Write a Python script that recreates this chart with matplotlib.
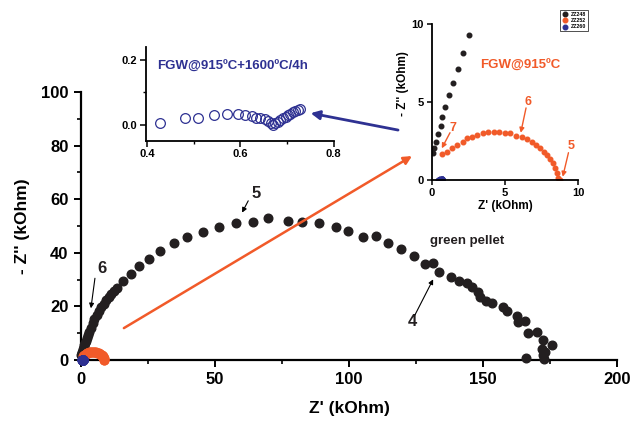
import matplotlib
matplotlib.use("Agg")
import matplotlib.pyplot as plt
from matplotlib.ticker import MultipleLocator

plt.rcParams['font.family'] = ['Liberation Sans', 'DejaVu Sans']
plt.rcParams['font.weight'] = 'bold'

# ---------------- data (kOhm) ----------------
# ZZ248 : green pellet
zz248_x = [0.12, 0.19, 0.31, 0.44, 0.63, 0.74, 0.94, 1.21, 1.49, 1.81, 2.15, 2.58,
           3.0, 3.6, 4.3, 5.0, 5.8, 6.6, 7.5, 8.4, 9.3, 10.3, 11.3, 12.2,
           13.3, 15.5, 18.5, 21.7, 25.4, 29.5, 34.7, 39.7, 45.6, 51.6, 57.8, 64.1, 69.9,
           77.4, 82.6, 88.8, 95.1, 99.5, 105.1, 110.1, 114.4, 119.3, 124.2, 128.2, 131.3,
           133.7, 137.9, 141.1, 144.0, 146.0, 148.2, 148.9, 151.1, 153.2, 157.4, 159.1,
           162.6, 163.2, 165.6, 166.9, 170.1, 172.3, 175.6, 171.9, 173.3, 172.5, 172.8, 166.0]
zz248_y = [1.75, 2.03, 2.46, 2.93, 3.46, 4.02, 4.70, 5.45, 6.24, 7.10, 8.12, 9.29,
           10.5, 12.0, 13.8, 15.3, 16.8, 18.2, 19.6, 21.0, 22.3, 23.6, 24.8, 25.9,
           26.8, 29.6, 32.1, 35.1, 37.8, 40.8, 43.8, 45.8, 47.9, 49.5, 51.2, 51.6, 52.9,
           52.0, 51.4, 51.0, 49.7, 48.2, 46.0, 46.4, 43.5, 41.3, 38.8, 35.7, 36.3,
           32.9, 30.9, 29.6, 28.8, 27.4, 25.5, 23.6, 22.1, 21.2, 19.9, 18.4,
           16.4, 14.3, 14.7, 10.2, 10.6, 7.5, 5.6, 4.0, 3.0, 1.9, 0.5, 0.6]

# ZZ252 : FGW@915ºC
zz252_x = [0.70, 1.04, 1.38, 1.76, 2.13, 2.40, 2.74, 3.12, 3.49, 3.87, 4.26, 4.62, 5.01,
           5.35, 5.76, 6.15, 6.49, 6.83, 7.12, 7.40, 7.67, 7.89, 8.08, 8.26, 8.42, 8.53,
           8.64, 8.76]
zz252_y = [1.67, 1.81, 2.03, 2.24, 2.46, 2.67, 2.78, 2.88, 2.99, 3.06, 3.10, 3.08, 3.03,
           2.99, 2.82, 2.78, 2.61, 2.46, 2.24, 2.03, 1.81, 1.60, 1.33, 1.07, 0.75, 0.43,
           0.15, 0.0]

# ZZ260 : FGW@915ºC+1600ºC/4h
zz260_x = [0.427, 0.481, 0.509, 0.543, 0.571, 0.594, 0.611, 0.624, 0.634, 0.643, 0.652,
           0.659, 0.666, 0.670, 0.675, 0.680, 0.686, 0.691, 0.697, 0.702, 0.707, 0.712,
           0.717, 0.723, 0.729]
zz260_y = [0.005, 0.023, 0.023, 0.030, 0.033, 0.033, 0.030, 0.027, 0.023, 0.020, 0.017,
           0.013, 0.005, 0.0, 0.005, 0.010, 0.015, 0.020, 0.025, 0.030, 0.035, 0.040,
           0.044, 0.047, 0.048]

legend_labels = ['ZZ248', 'ZZ252', 'ZZ260']
c_black = '#231F20'
c_orange = '#F15A29'
c_blue = '#2E3192'

W, H = 633, 422
fig = plt.figure(figsize=(W / 100, H / 100), dpi=100)

def rect(x0, y0, x1, y1):
    # pixel box (top-left origin) -> figure fraction rect
    return [x0 / W, 1 - y1 / H, (x1 - x0) / W, (y1 - y0) / H]

def style(ax, lw=1.5):
    for s in ['top', 'right']:
        ax.spines[s].set_visible(False)
    for s in ['left', 'bottom']:
        ax.spines[s].set_linewidth(lw)
        ax.spines[s].set_color('black')

# ---------------- main axes ----------------
ax = fig.add_axes(rect(81, 92, 617, 360))
style(ax, 1.6)
ax.plot(zz248_x, zz248_y, 'o', color=c_black, ms=6.2, mec=c_black, clip_on=False, zorder=3)
ax.plot(zz252_x, zz252_y, 'o', color=c_orange, ms=6.2, mec=c_orange, clip_on=False, zorder=4)
ax.plot(zz260_x, zz260_y, 'o', color=c_blue, ms=6.2, mec=c_blue, clip_on=False, zorder=5)
ax.set_xlim(0, 200)
ax.set_ylim(0, 100)
ax.xaxis.set_major_locator(MultipleLocator(50))
ax.xaxis.set_minor_locator(MultipleLocator(25))
ax.yaxis.set_major_locator(MultipleLocator(20))
ax.yaxis.set_minor_locator(MultipleLocator(10))
ax.tick_params(which='major', direction='out', length=5, width=1.4, labelsize=12, pad=4)
ax.tick_params(which='minor', direction='out', length=3, width=1.2)
ax.set_xlabel("Z' (kOhm)", fontsize=12.5, fontweight='bold', labelpad=10)
ax.set_ylabel("- Z'' (kOhm)", fontsize=12.5, fontweight='bold', labelpad=8)

ap = dict(arrowstyle='-|>', color='black', lw=0.8, mutation_scale=7, shrinkA=0, shrinkB=0)
ax.text(65.2, 62.3, '5', fontsize=12, ha='center', va='center', color=c_black)
ax.annotate('', xy=(60.1, 55.0), xytext=(62.4, 59.4), arrowprops=ap)
ax.text(8.0, 34.2, '6', fontsize=12, ha='center', va='center', color=c_black)
ax.annotate('', xy=(3.7, 19.3), xytext=(5.2, 30.5), arrowprops=ap)
ax.text(123.6, 14.3, '4', fontsize=12, ha='center', va='center', color=c_black)
ax.annotate('', xy=(131.4, 30.1), xytext=(124.6, 16.8), arrowprops=ap)
ax.text(130.2, 44.4, 'green pellet', fontsize=9.5, ha='left', va='center', color=c_black)

# long orange arrow towards inset 2
ax.annotate('', xy=(123.5, 76.1), xytext=(16.0, 11.9), annotation_clip=False,
            arrowprops=dict(arrowstyle='-|>', color=c_orange, lw=1.8, mutation_scale=12,
                            shrinkA=0, shrinkB=0), zorder=6)

# ---------------- inset 1 (ZZ260) ----------------
ax1 = fig.add_axes(rect(145.7, 46.7, 333.6, 141))
ax1.patch.set_alpha(0)
style(ax1, 1.3)
ax1.plot(zz260_x, zz260_y, 'o', mfc='none', mec=c_blue, mew=0.9, ms=7)
ax1.set_xlim(0.397, 0.80)
ax1.set_ylim(-0.049, 0.24)
ax1.xaxis.set_minor_locator(MultipleLocator(0.1))
ax1.yaxis.set_major_locator(MultipleLocator(0.2))
ax1.yaxis.set_minor_locator(MultipleLocator(0.1))
ax1.set_xticks([0.4, 0.6, 0.8])
ax1.set_xticklabels(['0.4', '0.6', '0.8'])
ax1.tick_params(which='major', direction='out', length=4, width=1.1, labelsize=8, pad=2)
ax1.tick_params(which='minor', direction='out', length=2.5, width=1.0)
ax1.text(0.421, 0.18, 'FGW@915ºC+1600ºC/4h', fontsize=9.5, color=c_blue,
         ha='left', va='center')

# ---------------- inset 2 (zoom near origin) ----------------
ax2 = fig.add_axes(rect(431.5, 24, 578.3, 180))
ax2.patch.set_alpha(0)
style(ax2, 1.3)
ax2.plot(zz248_x, zz248_y, 'o', color=c_black, ms=3.3, mec=c_black, label=legend_labels[0])
ax2.plot(zz252_x, zz252_y, 'o', color=c_orange, ms=3.3, mec=c_orange, label=legend_labels[1])
ax2.plot(zz260_x, zz260_y, 'o', color=c_blue, ms=3.3, mec=c_blue, label=legend_labels[2])
ax2.set_xlim(0, 10)
ax2.set_ylim(0, 10)
ax2.xaxis.set_major_locator(MultipleLocator(5))
ax2.yaxis.set_major_locator(MultipleLocator(5))
ax2.tick_params(which='major', direction='out', length=3.5, width=1.1, labelsize=8, pad=2)
ax2.set_xlabel("Z' (kOhm)", fontsize=8.5, fontweight='bold', labelpad=2)
ax2.set_ylabel("- Z'' (kOhm)", fontsize=8.5, fontweight='bold')
ax2.yaxis.set_label_coords(-0.15, 0.62)
leg = ax2.legend(loc='upper right', bbox_to_anchor=(1.066, 1.09), fontsize=3.8,
                 frameon=True, fancybox=False, edgecolor='black', markerscale=1.0,
                 handlelength=1.0, handletextpad=0.6, borderpad=0.35, labelspacing=0.25,
                 borderaxespad=0)
leg.get_frame().set_linewidth(0.6)

ap2 = dict(arrowstyle='-|>', color=c_orange, lw=1.0, mutation_scale=7, shrinkA=0, shrinkB=0)
ax2.text(3.31, 7.31, 'FGW@915ºC', fontsize=9.5, color=c_orange, ha='left', va='center')
ax2.text(6.6, 5.02, '6', fontsize=9, color=c_orange, ha='center', va='center')
ax2.annotate('', xy=(6.08, 3.03), xytext=(6.44, 4.62), arrowprops=ap2)
ax2.text(1.49, 3.31, '7', fontsize=9, color=c_orange, ha='center', va='center')
ax2.annotate('', xy=(0.70, 2.03), xytext=(1.26, 3.03), arrowprops=ap2)
ax2.text(9.49, 2.18, '5', fontsize=9, color=c_orange, ha='center', va='center')
ax2.annotate('', xy=(8.94, 0.21), xytext=(9.33, 1.75), arrowprops=ap2, annotation_clip=False)

# blue arrow pointing to inset 1
ax.annotate('', xy=(85.7, 92.1), xytext=(118.3, 85.8), annotation_clip=False,
            arrowprops=dict(arrowstyle='-|>', color=c_blue, lw=2.0, mutation_scale=13,
                            shrinkA=0, shrinkB=0), zorder=10)

fig.savefig('out.png', dpi=100)
